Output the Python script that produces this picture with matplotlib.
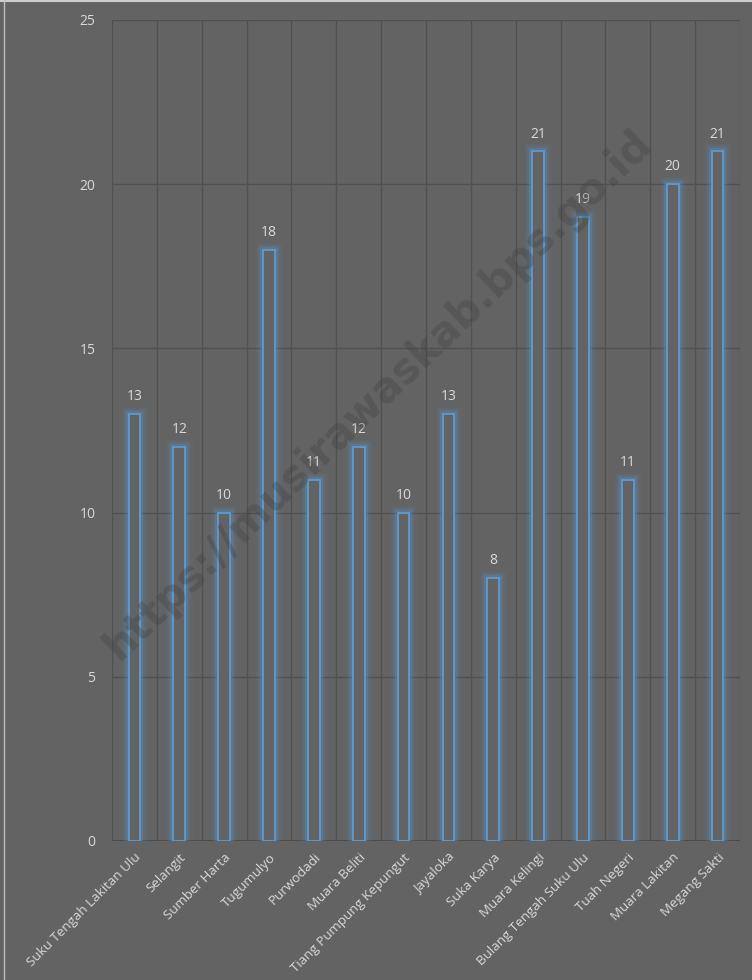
import matplotlib
matplotlib.use("Agg")
import matplotlib.pyplot as plt
import matplotlib.patheffects as pe
from matplotlib.lines import Line2D

categories = ["Suku Tengah Lakitan Ulu", "Selangit", "Sumber Harta", "Tugumulyo",
              "Purwodadi", "Muara Beliti", "Tiang Pumpung Kepungut", "Jayaloka",
              "Suka Karya", "Muara Kelingi", "Bulang Tengah Suku Ulu", "Tuah Negeri",
              "Muara Lakitan", "Megang Sakti"]
values = [13, 12, 10, 18, 11, 12, 10, 13, 8, 21, 19, 11, 20, 21]
yticks = [0, 5, 10, 15, 20, 25]

BG = "#636363"
GRID = "#505050"
TXT = "#d9d9d9"
BLUE = "#5b9bd5"

plt.rcParams['font.family'] = ['Open Sans', 'DejaVu Sans']

fig = plt.figure(figsize=(7.52, 9.80), dpi=100, facecolor=BG)
ax = fig.add_axes([112/752, 1-841/980, (740-112)/752, (841-20)/980])
ax.set_facecolor(BG)

n = len(categories)
x = list(range(n))
glow = [pe.Stroke(linewidth=11, foreground=BLUE, alpha=0.06),
        pe.Stroke(linewidth=7.5, foreground=BLUE, alpha=0.12),
        pe.Stroke(linewidth=4.5, foreground=BLUE, alpha=0.25),
        pe.Normal()]
bars = ax.bar(x, values, width=0.26, facecolor=BG, edgecolor=BLUE, linewidth=1.3, zorder=3)
for b in bars:
    b.set_path_effects(glow)

for xi, v in zip(x, values):
    ax.text(xi, v + 0.3, str(v), ha='center', va='bottom', color=TXT, fontsize=10, zorder=4)

ax.set_xlim(-0.5, n - 0.5)
ax.set_ylim(0, 25)
ax.set_yticks(yticks)
ax.set_yticklabels([str(t) for t in yticks], color=TXT, fontsize=10)
ax.tick_params(axis='y', length=0, pad=12)
ax.set_xticks(x)
ax.set_xticklabels(categories, rotation=45, ha='right', rotation_mode='anchor', color=TXT, fontsize=9.6)
ax.tick_params(axis='x', length=0, pad=7)

for t in yticks[1:]:
    ax.axhline(t, color=GRID, linewidth=1, zorder=1)
for k in range(n + 1):
    ax.axvline(k - 0.5, color=GRID, linewidth=1, zorder=1)
for s in ax.spines.values():
    s.set_visible(False)
ax.axhline(0, color="#474747", linewidth=1.2, zorder=2)

fig.text(0.503, 0.597, "https://musirawaskab.bps.go.id", rotation=44, ha='center', va='center',
         fontsize=30, fontweight='bold', color="#3c3c3c", alpha=0.3, family='DejaVu Sans', zorder=10)

fig.add_artist(Line2D([0, 1], [1 - 1.5/980, 1 - 1.5/980], color="#cfcfcf", linewidth=1.5, transform=fig.transFigure))
fig.add_artist(Line2D([4/752, 4/752], [0, 1], color="#bdbdbd", linewidth=1, transform=fig.transFigure))

fig.savefig("out.png", dpi=100, facecolor=BG)
